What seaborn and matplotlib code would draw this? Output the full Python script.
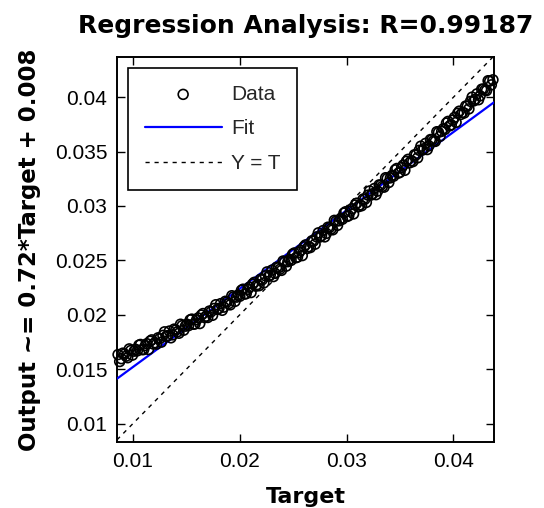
import numpy as np
import matplotlib
matplotlib.use("Agg")
import matplotlib.pyplot as plt
import seaborn as sns

# values (two interleaved runs of samples)
target_a = [
    0.0086, 0.0089, 0.0092, 0.0095, 0.0098, 0.0101, 0.0104, 0.0107, 0.0110, 0.0113,
    0.0116, 0.0119, 0.0122, 0.0125, 0.0128, 0.0131, 0.0134, 0.0137, 0.0140, 0.0143,
    0.0146, 0.0149, 0.0152, 0.0155, 0.0158, 0.0161, 0.0164, 0.0167, 0.0170, 0.0173,
    0.0176, 0.0179, 0.0182, 0.0185, 0.0188, 0.0191, 0.0194, 0.0197, 0.0200, 0.0203,
    0.0206, 0.0209, 0.0212, 0.0215, 0.0218, 0.0221, 0.0224, 0.0227, 0.0230, 0.0233,
    0.0236, 0.0239, 0.0242, 0.0245, 0.0248, 0.0251, 0.0254, 0.0257, 0.0260, 0.0263,
    0.0266, 0.0269, 0.0272, 0.0275, 0.0278, 0.0281, 0.0284, 0.0287, 0.0290, 0.0293,
    0.0296, 0.0299, 0.0302, 0.0305, 0.0308, 0.0311, 0.0314, 0.0317, 0.0320, 0.0323,
    0.0326, 0.0329, 0.0332, 0.0335, 0.0338, 0.0341, 0.0344, 0.0347, 0.0350, 0.0353,
    0.0356, 0.0359, 0.0362, 0.0365, 0.0368, 0.0371, 0.0374, 0.0377, 0.0380, 0.0383,
    0.0386, 0.0389, 0.0392, 0.0395, 0.0398, 0.0401, 0.0404, 0.0407, 0.0410, 0.0413,
    0.0416, 0.0419, 0.0422, 0.0425, 0.0428, 0.0431, 0.0434, 0.0437,
]
output_a = [
    0.01634, 0.01596, 0.01638, 0.01605, 0.01672, 0.01665, 0.01668, 0.01727, 0.01680, 0.01734,
    0.01757, 0.01731, 0.01730, 0.01780, 0.01810, 0.01800, 0.01850, 0.01815, 0.01860, 0.01830,
    0.01900, 0.01895, 0.01900, 0.01960, 0.01915, 0.01971, 0.01997, 0.01974, 0.01975, 0.02027,
    0.02058, 0.02050, 0.02102, 0.02070, 0.02118, 0.02091, 0.02164, 0.02162, 0.02170, 0.02235,
    0.02194, 0.02254, 0.02283, 0.02263, 0.02267, 0.02322, 0.02358, 0.02354, 0.02410, 0.02381,
    0.02432, 0.02408, 0.02485, 0.02488, 0.02500, 0.02568, 0.02530, 0.02593, 0.02625, 0.02609,
    0.02618, 0.02677, 0.02716, 0.02715, 0.02774, 0.02748, 0.02802, 0.02781, 0.02860, 0.02864,
    0.02878, 0.02947, 0.02911, 0.02975, 0.03009, 0.02993, 0.03002, 0.03061, 0.03100, 0.03101,
    0.03161, 0.03137, 0.03192, 0.03173, 0.03253, 0.03259, 0.03274, 0.03345, 0.03310, 0.03376,
    0.03411, 0.03397, 0.03408, 0.03470, 0.03512, 0.03514, 0.03576, 0.03553, 0.03610, 0.03594,
    0.03677, 0.03686, 0.03704, 0.03778, 0.03746, 0.03815, 0.03853, 0.03842, 0.03855, 0.03919,
    0.03962, 0.03966, 0.04031, 0.04013, 0.04075, 0.04061, 0.04148, 0.04160,
]
target_b = [
    0.00875, 0.00905, 0.00935, 0.00965, 0.00995, 0.01025, 0.01055, 0.01085, 0.01115, 0.01145,
    0.01175, 0.01205, 0.01235, 0.01265, 0.01295, 0.01325, 0.01355, 0.01385, 0.01415, 0.01445,
    0.01475, 0.01505, 0.01535, 0.01565, 0.01595, 0.01625, 0.01655, 0.01685, 0.01715, 0.01745,
    0.01775, 0.01805, 0.01835, 0.01865, 0.01895, 0.01925, 0.01955, 0.01985, 0.02015, 0.02045,
    0.02075, 0.02105, 0.02135, 0.02165, 0.02195, 0.02225, 0.02255, 0.02285, 0.02315, 0.02345,
    0.02375, 0.02405, 0.02435, 0.02465, 0.02495, 0.02525, 0.02555, 0.02585, 0.02615, 0.02645,
    0.02675, 0.02705, 0.02735, 0.02765, 0.02795, 0.02825, 0.02855, 0.02885, 0.02915, 0.02945,
    0.02975, 0.03005, 0.03035, 0.03065, 0.03095, 0.03125, 0.03155, 0.03185, 0.03215, 0.03245,
    0.03275, 0.03305, 0.03335, 0.03365, 0.03395, 0.03425, 0.03455, 0.03485, 0.03515, 0.03545,
    0.03575, 0.03605, 0.03635, 0.03665, 0.03695, 0.03725, 0.03755, 0.03785, 0.03815, 0.03845,
    0.03875, 0.03905, 0.03935, 0.03965, 0.03995, 0.04025, 0.04055, 0.04085, 0.04115, 0.04145,
    0.04175, 0.04205, 0.04235, 0.04265, 0.04295, 0.04325, 0.04355,
]
output_b = [
    0.01570, 0.01647, 0.01619, 0.01686, 0.01629, 0.01682, 0.01720, 0.01679, 0.01717, 0.01681,
    0.01769, 0.01743, 0.01788, 0.01748, 0.01843, 0.01808, 0.01788, 0.01868, 0.01843, 0.01913,
    0.01858, 0.01913, 0.01953, 0.01913, 0.01953, 0.01919, 0.02011, 0.01987, 0.02034, 0.01995,
    0.02092, 0.02059, 0.02041, 0.02124, 0.02102, 0.02175, 0.02123, 0.02181, 0.02225, 0.02190,
    0.02234, 0.02204, 0.02298, 0.02278, 0.02327, 0.02293, 0.02394, 0.02365, 0.02351, 0.02437,
    0.02418, 0.02494, 0.02447, 0.02509, 0.02557, 0.02524, 0.02572, 0.02544, 0.02642, 0.02626,
    0.02680, 0.02649, 0.02753, 0.02727, 0.02716, 0.02805, 0.02789, 0.02868, 0.02822, 0.02886,
    0.02935, 0.02904, 0.02953, 0.02927, 0.03026, 0.03010, 0.03064, 0.03033, 0.03138, 0.03113,
    0.03104, 0.03194, 0.03180, 0.03260, 0.03216, 0.03281, 0.03332, 0.03302, 0.03353, 0.03328,
    0.03429, 0.03415, 0.03471, 0.03443, 0.03550, 0.03527, 0.03519, 0.03611, 0.03599, 0.03683,
    0.03641, 0.03710, 0.03763, 0.03737, 0.03790, 0.03769, 0.03872, 0.03861, 0.03919, 0.03893,
    0.04001, 0.03981, 0.03977, 0.04074, 0.04065, 0.04152, 0.04114,
]

fit_slope = 0.72
fit_intercept = 0.008
r_value = 0.99187

x_lim = [0.0085, 0.0438]
y_lim = [0.0083, 0.0437]
x_ticks = [0.01, 0.02, 0.03, 0.04]
x_ticklabels = ["0.01", "0.02", "0.03", "0.04"]
y_ticks = [0.01, 0.015, 0.02, 0.025, 0.03, 0.035, 0.04]
y_ticklabels = ["0.01", "0.015", "0.02", "0.025", "0.03", "0.035", "0.04"]

target = target_a + target_b
output = output_a + output_b

sns.set_theme(style="ticks")
plt.rcParams['font.family'] = ['Liberation Sans', 'DejaVu Sans']

fig = plt.figure(figsize=(5.44, 5.08), dpi=100)
ax = fig.add_axes([117 / 544, 66 / 508, 377 / 544, 385 / 508])

sns.scatterplot(x=target, y=output, ax=ax, marker='o', s=50,
                facecolor='none', edgecolor='black', linewidth=1.2,
                clip_on=False, label='Data', zorder=5)

fit_x = np.array(x_lim)
fit_y = fit_slope * fit_x + fit_intercept
sns.lineplot(x=fit_x, y=fit_y, ax=ax, color='blue', linewidth=1.6,
             label='Fit', zorder=3)
sns.lineplot(x=x_lim, y=x_lim, ax=ax, color='black', linewidth=1.0,
             linestyle=(0, (3, 3.5)), label='Y = T', zorder=2)

ax.set_xlim(x_lim)
ax.set_ylim(y_lim)
ax.set_xticks(x_ticks)
ax.set_xticklabels(x_ticklabels)
ax.set_yticks(y_ticks)
ax.set_yticklabels(y_ticklabels)
ax.tick_params(direction='in', top=True, right=True, length=5.5, width=1.0,
               labelsize=15, colors='black', pad=7)
for sp in ax.spines.values():
    sp.set_linewidth(1.4)
    sp.set_color('black')

bold = dict(family='DejaVu Sans', weight='bold', color='black')
ax.set_title("Regression Analysis: R={:.5f}".format(r_value),
             fontsize=18, pad=17, **bold)
ax.set_xlabel("Target", fontsize=16, labelpad=12, **bold)
ax.set_ylabel("Output ~= {}*Target + {}".format(fit_slope, fit_intercept),
              fontsize=16.5, labelpad=10, **bold)

leg = ax.legend(loc='upper left', bbox_to_anchor=(0.029, 0.971),
                borderaxespad=0, fancybox=False, framealpha=1,
                edgecolor='black', fontsize=15, handlelength=3.7,
                handletextpad=0.45, labelspacing=0.75, borderpad=0.8)
leg.get_frame().set_linewidth(1.2)
leg.set_zorder(10)

fig.savefig("out.png", dpi=100)
